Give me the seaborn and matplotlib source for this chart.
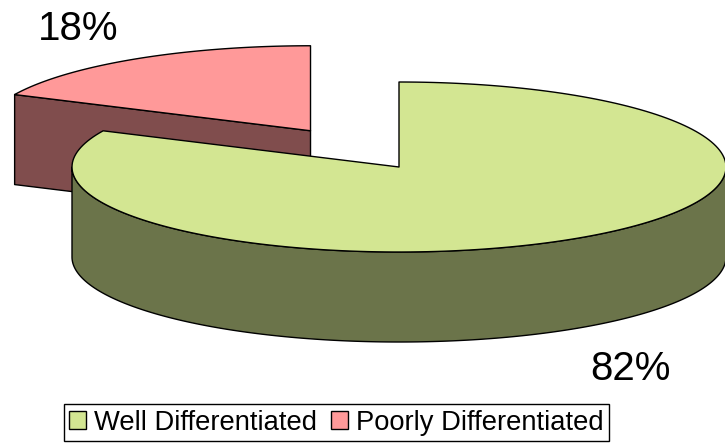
import numpy as np
import matplotlib
matplotlib.use("Agg")
import matplotlib.pyplot as plt
from matplotlib.patches import Polygon, Patch
import seaborn as sns

# ---- data ----
categories = ["Well Differentiated", "Poorly Differentiated"]
values = [82, 18]
labels = ["82%", "18%"]

# ---- style ----
sns.set_theme(style="white")
plt.rcParams['font.family'] = ['Liberation Sans', 'DejaVu Sans']
top_colors = ["#D3E692", "#FF9999"]
side_colors = ["#6B744A", "#804D4D"]

W, H = 725, 447
fig = plt.figure(figsize=(W / 100, H / 100), dpi=100)
ax = fig.add_axes([0, 0, 1, 1])
ax.set_xlim(0, W)
ax.set_ylim(H, 0)
ax.axis("off")

# geometry of the 3-D pie (pixel units)
cx, cy = 399.0, 167.0
RX, RY = 327.0, 85.0
DEPTH = 90.0
explode = [0.0, 0.505]

total = float(sum(values))
fracs = [v / total for v in values]
starts = np.cumsum([0.0] + fracs[:-1])


def pt(c, th, dz=0.0):
    # th: clockwise angle from 12 o'clock
    return (c[0] + RX * np.sin(th), c[1] - RY * np.cos(th) + dz)


def arc(c, t0, t1, dz=0.0, n=200):
    ts = np.linspace(t0, t1, n)
    return [pt(c, t, dz) for t in ts]


slices = []
for i, (f, s) in enumerate(zip(fracs, starts)):
    t0 = 2 * np.pi * s
    t1 = 2 * np.pi * (s + f)
    tb = 0.5 * (t0 + t1)
    c = (cx + RX * explode[i] * np.sin(tb), cy - RY * explode[i] * np.cos(tb))
    slices.append((i, c, t0, t1))

ekw = dict(edgecolor="black", linewidth=1.0, joinstyle="round")

# draw back slice (poorly) first, then the front slice
for i, c, t0, t1 in [slices[1], slices[0]]:
    if i == 1:
        p = pt(c, t0)
        face = [c, p, (p[0], p[1] + DEPTH), (c[0], c[1] + DEPTH)]
        ax.add_patch(Polygon(face, closed=True, facecolor=side_colors[i], **ekw))
    a0, a1 = max(t0, np.pi / 2), min(t1, 3 * np.pi / 2)
    if a1 > a0:
        wall = arc(c, a0, a1) + arc(c, a1, a0, DEPTH)
        ax.add_patch(Polygon(wall, closed=True, facecolor=side_colors[i], **ekw))
    top = [c] + arc(c, t0, t1) + [c]
    ax.add_patch(Polygon(top, closed=True, facecolor=top_colors[i], **ekw))

# percentage labels
ax.text(630, 380, labels[0], fontsize=29, ha="center", va="baseline", color="black")
ax.text(78, 40, labels[1], fontsize=29, ha="center", va="baseline", color="black")

# legend
handles = [Patch(facecolor=top_colors[k], edgecolor="black", linewidth=1.0,
                 label=categories[k]) for k in range(2)]
leg = fig.legend(handles=handles, loc="center", ncol=2,
                 bbox_to_anchor=(336.5 / W, 1 - 422.5 / H),
                 fontsize=19.7, frameon=True, fancybox=False,
                 handlelength=0.62, handleheight=0.62, handletextpad=0.3,
                 columnspacing=0.5, borderpad=0.2, borderaxespad=0)
fr = leg.get_frame()
fr.set_edgecolor("black")
fr.set_linewidth(1.0)
fr.set_alpha(1)
for t in leg.get_texts():
    t.set_color("black")

fig.savefig("out.png", dpi=100, facecolor="white")
